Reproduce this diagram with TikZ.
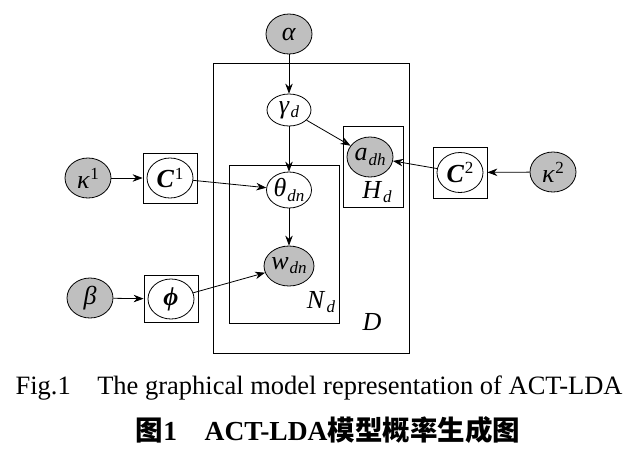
\documentclass[tikz,border=0pt]{standalone}
\usepackage{fontspec}
\setmainfont{Liberation Serif}
\newfontfamily\cjk{Noto Sans CJK SC}
\usetikzlibrary{arrows.meta,shapes.geometric}
\newcommand\vsub[2]{\textit{#1}\kern1pt\raisebox{-0.35ex}{\fontsize{17}{20}\selectfont\textit{#2}}}
\newcommand\vsup[2]{#1\kern0.5pt\raisebox{0.75ex}{\fontsize{17}{20}\selectfont #2}}
\begin{document}
\begin{tikzpicture}[x=1pt,y=-1pt,
  every node/.style={font=\fontsize{26}{30}\selectfont},
  var/.style={ellipse, draw, line width=0.8pt, inner sep=0pt, minimum width=46pt, minimum height=40pt},
  obs/.style={var, fill=gray!50},
  platebox/.style={draw, line width=0.8pt, inner sep=0pt, anchor=north west},
  sqbox/.style={draw, line width=0.8pt, inner sep=0pt},
  arr/.style={-{Stealth[length=10pt,width=7.5pt]}, line width=0.8pt}]
\useasboundingbox (0,0) rectangle (634,448);
% plates
\node[platebox, minimum width=196pt, minimum height=290pt] (Dp) at (213,63) {};
\node[platebox, minimum width=110pt, minimum height=158pt] (Np) at (229,165) {};
\node[platebox, minimum width=60pt, minimum height=81pt] (Hp) at (343,126) {};
\node (Dl) at (372,322) {\textit{D}};
\node (Nl) at (321,302) {\vsub{N}{d}};
\node (Hl) at (377,192) {\vsub{H}{d}};
% variables
\node[obs] (alpha) at (289,34) {\textit{α}};
\node[var, minimum width=44pt, minimum height=32pt] (gamma) at (289,110) {\vsub{γ}{d}};
\node[var, minimum width=45pt, minimum height=36pt] (theta) at (289,190) {\vsub{θ}{dn}};
\node[obs] (w) at (289,266) {\vsub{w}{dn}};
\node[obs] (a) at (370,157) {\vsub{a}{dh}};
\node[obs] (k1) at (88,178) {\vsup{\textit{κ}}{1}};
\node[sqbox, minimum width=54pt, minimum height=50pt] (c1box) at (170,178) {};
\node[var] (c1) at (170,178) {\vsup{\textbf{\textit{C}}}{1}};
\node[obs] (beta) at (90,298) {\textit{β}};
\node[sqbox, minimum width=54pt, minimum height=47pt] (phibox) at (171,299) {};
\node[var] (phi) at (171,299) {\textbf{\textit{ϕ}}};
\node[sqbox, minimum width=54pt, minimum height=51pt] (c2box) at (460,172.5) {};
\node[var] (c2) at (460,172.5) {\vsup{\textbf{\textit{C}}}{2}};
\node[obs] (k2) at (553,172) {\vsup{\textit{κ}}{2}};
% edges
\draw[arr] (alpha) -- (gamma);
\draw[arr] (gamma) -- (theta);
\draw[arr] (theta) -- (w);
\draw[arr] (gamma) -- (a);
\draw[arr] (k1) -- (c1box);
\draw[arr] (c1) -- (theta);
\draw[arr] (beta) -- (phibox);
\draw[arr] (phi) -- (w);
\draw[arr] (c2) -- (a);
\draw[arr] (k2) -- (c2box);
% captions
\node[font=\fontsize{26.5}{30}\selectfont] (cap1) at (319,388) {Fig.1\quad The graphical model representation of ACT-LDA};
\node[font=\fontsize{27.5}{32}\selectfont\bfseries] (cap2) at (328,430) {{\cjk 图}1\quad ACT-LDA{\cjk 模型概率生成图}};
\end{tikzpicture}
\end{document}
